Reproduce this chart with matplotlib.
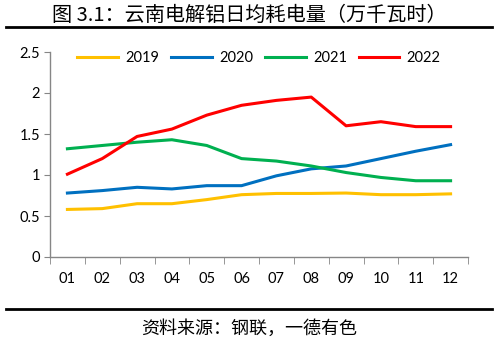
import numpy as np
import matplotlib

matplotlib.use("Agg")
import matplotlib.pyplot as plt

plt.rcParams["font.family"] = ["Noto Sans CJK SC", "DejaVu Sans"]

# 月份 & 各年日均耗电量 (万千瓦时)
months = ["01", "02", "03", "04", "05", "06", "07", "08", "09", "10", "11", "12"]
y2019 = [0.58, 0.59, 0.65, 0.65, 0.70, 0.76, 0.775, 0.775, 0.78, 0.76, 0.76, 0.77]
y2020 = [0.78, 0.81, 0.85, 0.83, 0.87, 0.87, 0.99, 1.075, 1.11, 1.20, 1.29, 1.37]
y2021 = [1.32, 1.36, 1.40, 1.43, 1.36, 1.20, 1.17, 1.11, 1.03, 0.97, 0.93, 0.93]
y2022 = [1.01, 1.20, 1.47, 1.56, 1.73, 1.85, 1.91, 1.95, 1.60, 1.65, 1.59, 1.59]
yticks = [0, 0.5, 1, 1.5, 2, 2.5]
ytick_labels = ["0", "0.5", "1", "1.5", "2", "2.5"]

series = [
    ("2019", y2019, "#FFC000"),
    ("2020", y2020, "#0070C0"),
    ("2021", y2021, "#00B050"),
    ("2022", y2022, "#FF0000"),
]
num_font = {"family": ["Lato", "DejaVu Sans"], "size": 10.5}

fig = plt.figure(figsize=(4.98, 3.48), dpi=100)
ax = fig.add_axes([50 / 498, 1 - 257 / 348, 418 / 498, 205 / 348])

x = np.arange(len(months))
for name, vals, color in series:
    ax.plot(x, vals, color=color, lw=2.2, label=name, solid_joinstyle="round")

ax.set_xlim(-0.5, len(months) - 0.5)
ax.set_ylim(0, 2.5)
ax.set_yticks(yticks)
ax.set_yticklabels(ytick_labels, fontdict=num_font)
ax.set_xticks(x)
ax.set_xticklabels(months, fontdict=num_font)
ax.set_xticks(np.arange(-0.5, len(months)), minor=True)
ax.tick_params(axis="x", which="major", length=0, pad=11)
ax.tick_params(axis="x", which="minor", length=5, color="#868686")
ax.tick_params(axis="y", length=4, color="#868686", pad=3)
for s in ("top", "right"):
    ax.spines[s].set_visible(False)
for s in ("left", "bottom"):
    ax.spines[s].set_color("#868686")
    ax.spines[s].set_linewidth(1.0)

ax.legend(loc="upper center", bbox_to_anchor=(0.5, 1.07), ncol=4, frameon=False,
          prop=num_font, handlelength=2.8, columnspacing=0.8, handletextpad=0.5)

# 标题、分隔线、资料来源
fig.text(0.5, 1 - 15 / 348, "图 3.1：云南电解铝日均耗电量（万千瓦时）", ha="center", va="center",
         fontsize=14.5)
fig.add_artist(plt.Line2D([6 / 498, 492 / 498], [1 - 27 / 348] * 2, color="black", lw=2))
fig.add_artist(plt.Line2D([6 / 498, 492 / 498], [1 - 309 / 348] * 2, color="black", lw=2))
fig.text(0.5, 1 - 329 / 348, "资料来源：钢联，一德有色", ha="center", va="center", fontsize=13)

fig.savefig("out.png", dpi=100)
